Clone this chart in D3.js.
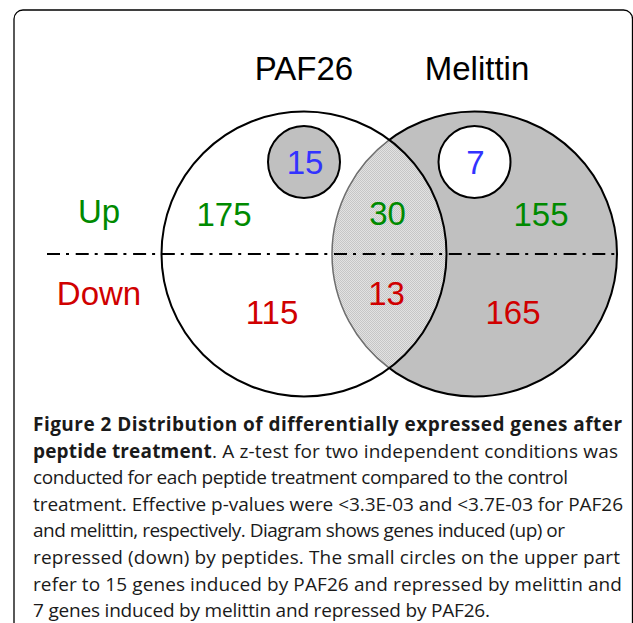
<!DOCTYPE html>
<html><head><meta charset="utf-8">
<script src="https://cdn.jsdelivr.net/npm/d3@7"></script>
<style>body{margin:0;background:#fff}svg{display:block}</style>
</head><body>
<svg id="chart" width="633" height="623"></svg>
<script>
// ---------- data ----------
const sets = ["PAF26", "Melittin"];
const rowLabels = ["Up", "Down"];
const upCounts = [175, 30, 155];      // PAF26 only, both, Melittin only
const downCounts = [115, 13, 165];    // PAF26 only, both, Melittin only
const crossCounts = [15, 7];          // up in one set, down in the other
const captionLines = [
  [{b:true, t:"Figure 2 Distribution of differentially expressed genes after"}],
  [{b:true, t:"peptide treatment"}, {b:false, t:". A z-test for two independent conditions was"}],
  [{b:false, t:"conducted for each peptide treatment compared to the control"}],
  [{b:false, t:"treatment. Effective p-values were <3.3E-03 and <3.7E-03 for PAF26"}],
  [{b:false, t:"and melittin, respectively. Diagram shows genes induced (up) or"}],
  [{b:false, t:"repressed (down) by peptides. The small circles on the upper part"}],
  [{b:false, t:"refer to 15 genes induced by PAF26 and repressed by melittin and"}],
  [{b:false, t:"7 genes induced by melittin and repressed by PAF26."}]
];

// ---------- layout ----------
(function draw() {
const svg = d3.select("#chart");
const GREEN = "#008a00", RED = "#d00000", BLUE = "#3333ff";
const cx = d3.scaleLinear().domain([0, 1]).range([304, 474.5]);   // set centres
const cy = 254, R = 142.5;
const rowY = d3.scaleOrdinal().domain(rowLabels).range([223, 305]);
const smallR = 36, smallY = 162;

const defs = svg.append("defs");
const pat = defs.append("pattern").attr("id", "stip").attr("width", 2).attr("height", 2)
  .attr("patternUnits", "userSpaceOnUse");
pat.append("rect").attr("width", 2).attr("height", 2).attr("fill", "#e2e2e2");
pat.append("rect").attr("width", 1).attr("height", 1).attr("fill", "#c6c6c6");
pat.append("rect").attr("x", 1).attr("y", 1).attr("width", 1).attr("height", 1).attr("fill", "#c6c6c6");

// frame
svg.append("rect").attr("x", 14).attr("y", 10).attr("width", 618.5).attr("height", 640)
  .attr("rx", 9).attr("fill", "none").attr("stroke", "#000").attr("stroke-width", 1.3);

const x0 = cx(0), x1 = cx(1);
svg.append("circle").attr("cx", x1).attr("cy", cy).attr("r", R)
  .attr("fill", "#c0c0c0").attr("stroke", "#000").attr("stroke-width", 2);
svg.append("circle").attr("cx", x0).attr("cy", cy).attr("r", R).attr("fill", "#fff");
const d = x1 - x0, hx = (x0 + x1) / 2, hy = Math.sqrt(R * R - (d / 2) * (d / 2));
const pTop = [hx, cy - hy], pBot = [hx, cy + hy];
svg.append("path")
  .attr("d", `M${pTop[0]},${pTop[1]} A${R},${R} 0 0 1 ${pBot[0]},${pBot[1]} A${R},${R} 0 0 1 ${pTop[0]},${pTop[1]}Z`)
  .attr("fill", "url(#stip)");
svg.append("path")
  .attr("d", `M${pBot[0]},${pBot[1]} A${R},${R} 0 0 1 ${pTop[0]},${pTop[1]}`)
  .attr("fill", "none").attr("stroke", "#6e6e6e").attr("stroke-width", 1.5);
svg.append("circle").attr("cx", x0).attr("cy", cy).attr("r", R)
  .attr("fill", "none").attr("stroke", "#000").attr("stroke-width", 2);

svg.selectAll("circle.small").data(crossCounts).join("circle").attr("class", "small")
  .attr("cx", (v, i) => cx(i)).attr("cy", smallY).attr("r", smallR)
  .attr("fill", (v, i) => i === 0 ? "#c0c0c0" : "#fff")
  .attr("stroke", "#000").attr("stroke-width", 2);

svg.append("line").attr("x1", 47).attr("x2", x1 + R).attr("y1", cy).attr("y2", cy)
  .attr("stroke", "#000").attr("stroke-width", 2).attr("stroke-dasharray", "13,6,3,6.7");

const FONT = "'Liberation Sans', Arial, sans-serif";
function label(x, y, txt, col, size) {
  svg.append("text").attr("x", x).attr("y", y).attr("text-anchor", "middle")
    .attr("font-family", FONT).attr("font-size", size || 33).attr("fill", col).text(txt);
}
const titleX = [304, 477];
sets.forEach((s, i) => label(titleX[i], 80, s, "#000", 33));
label(99, rowY("Up"), rowLabels[0], GREEN, 33);
label(99, rowY("Down"), rowLabels[1], RED, 33);
const upX = [224, 387.5, 541], upY = [226, 225, 226];
const downX = [272, 386.5, 513], downY = [324, 305, 324];
upCounts.forEach((v, i) => label(upX[i], upY[i], v, GREEN));
downCounts.forEach((v, i) => label(downX[i], downY[i], v, RED));
crossCounts.forEach((v, i) => label(cx(i) + 1, 174, v, BLUE));

const capX = 33, capEnds = [622, 618, 568, 623, 565, 620, 622, 490];
const capFont = "'Open Sans', 'Noto Sans', sans-serif";
captionLines.forEach((parts, i) => {
  const t = svg.append("text").attr("x", capX).attr("y", 431 + i * 26.6)
    .attr("font-family", capFont).attr("font-size", 19).attr("fill", "#1a1a1a");
  parts.forEach(p => t.append("tspan").attr("font-weight", p.b ? "bold" : "normal").text(p.t));
  const w = t.node().getComputedTextLength();
  const n = parts.map(p => p.t).join("").length;
  const target = capEnds[i] - capX;
  t.attr("letter-spacing", ((target - w) / (n - 1)).toFixed(3));
});
})();
</script>
</body></html>
